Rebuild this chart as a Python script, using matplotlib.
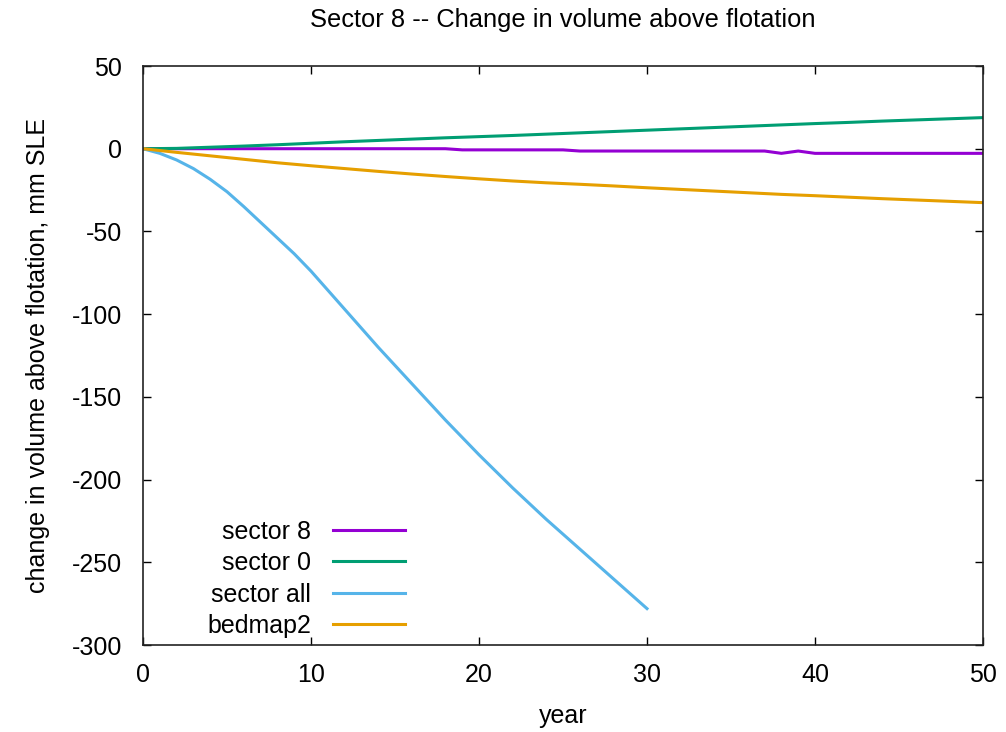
import matplotlib
matplotlib.use("Agg")
import matplotlib.pyplot as plt

plt.rcParams['font.family'] = ['Liberation Sans', 'DejaVu Sans']
plt.rcParams['axes.unicode_minus'] = False

# ---- data ----
years_even = [0, 2, 4, 6, 8, 10, 12, 14, 16, 18, 20, 22, 24, 26, 28, 30,
              32, 34, 36, 38, 40, 42, 44, 46, 48, 50]
sector0 = [0, 0.2, 0.9, 1.6, 2.4, 3.3, 4.2, 5.0, 5.8, 6.6, 7.3, 8.0, 8.8, 9.6,
           10.4, 11.2, 12.0, 12.8, 13.6, 14.4, 15.2, 15.9, 16.7, 17.4, 18.1, 18.8]
bedmap2 = [0, -2.2, -4.3, -6.4, -8.5, -10.3, -12.0, -13.7, -15.3, -16.8, -18.2,
           -19.5, -20.6, -21.5, -22.5, -23.6, -24.6, -25.6, -26.6, -27.6, -28.4,
           -29.3, -30.2, -31.0, -31.8, -32.6]

years_s8 = [0, 18, 19, 25, 26, 37, 38, 39, 40, 50]
sector8 = [0, 0, -0.7, -0.7, -1.4, -1.4, -2.8, -1.4, -2.8, -2.8]

years_all = list(range(0, 31))
sector_all = [0, -2.8, -6.8, -12, -18.5, -26, -35, -44.5, -54, -63.5, -74, -85.5,
              -97, -108.5, -120, -131, -142, -153, -164, -174.5, -185, -195,
              -205, -214.5, -224, -233, -242, -251, -260, -269, -278]

xticks = [0, 10, 20, 30, 40, 50]
yticks = [50, 0, -50, -100, -150, -200, -250, -300]

fig = plt.figure(figsize=(10.06, 7.32), dpi=100)
ax = fig.add_axes([143/1006, 1-645/732, 840/1006, 579/732])

lw = 2.2
ax.plot(years_s8, sector8, color='#9400d3', lw=lw, label='sector 8')
ax.plot(years_even, sector0, color='#009e73', lw=lw, label='sector 0')
ax.plot(years_all, sector_all, color='#56b4e9', lw=lw, label='sector all')
ax.plot(years_even, bedmap2, color='#e69f00', lw=lw, label='bedmap2')

fs = 18
ax.set_xlim(0, 50)
ax.set_ylim(-300, 50)
ax.set_xticks(xticks)
ax.set_yticks(yticks)
ax.tick_params(direction='in', top=True, right=True, length=6, width=1,
               labelsize=fs, colors='black')
ax.tick_params(axis='y', pad=15)
ax.tick_params(axis='x', pad=13)
for s in ax.spines.values():
    s.set_linewidth(1.2)
    s.set_color('#222222')

ax.set_title('Sector 8 -- Change in volume above flotation', fontsize=18.4, pad=28)
ax.set_xlabel('year', fontsize=fs, labelpad=12)
ax.set_ylabel('change in volume above flotation, mm SLE', fontsize=fs, labelpad=16)

ax.legend(loc='lower right', bbox_to_anchor=(0.312, 0.012), markerfirst=False,
          frameon=False, fontsize=fs, handlelength=2.9, handletextpad=0.85,
          labelspacing=0.3, borderpad=0, borderaxespad=0)

fig.savefig('out.png', dpi=100)
